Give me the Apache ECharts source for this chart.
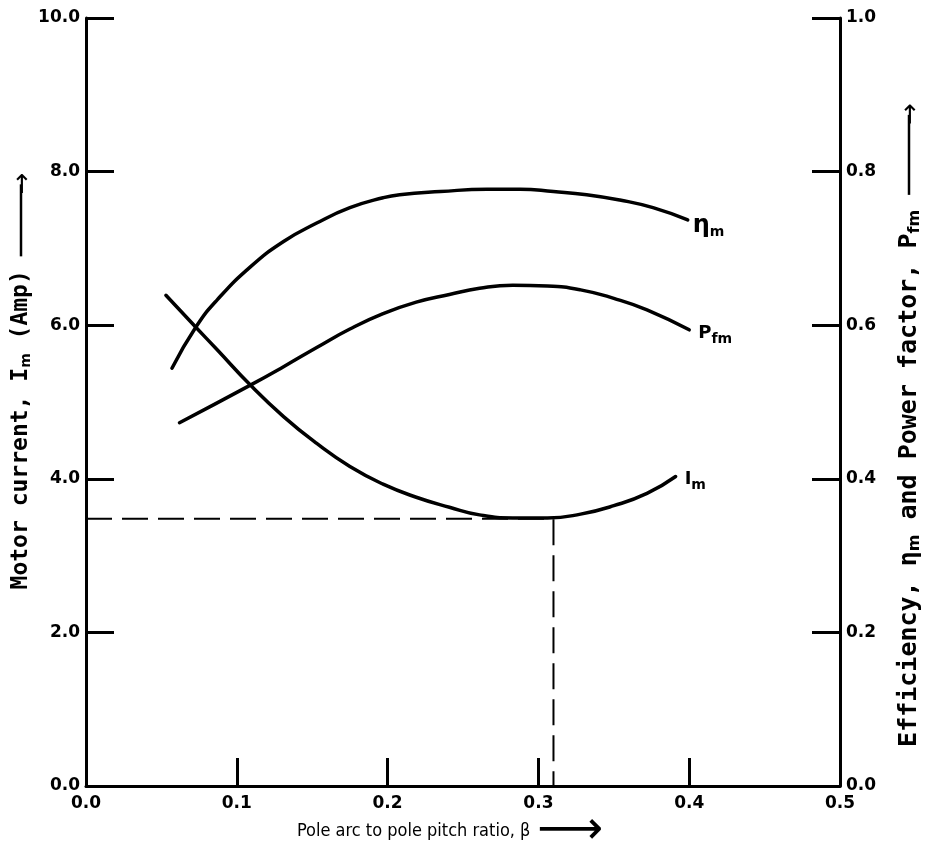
<!DOCTYPE html>
<html>
<head>
<meta charset="utf-8">
<script src="https://cdn.jsdelivr.net/npm/echarts@6/dist/echarts.min.js"></script>
<style>
html,body{margin:0;padding:0;background:#fff;}
#chart{width:933px;height:853px;}
</style>
</head>
<body>
<div id="chart"></div>
<script>
// Efficiency curve (right axis)
const etaBeta = [0.057, 0.073, 0.087, 0.109, 0.131, 0.153, 0.175, 0.197, 0.208, 0.235, 0.266, 0.288, 0.310, 0.332, 0.354, 0.376, 0.399];
const etaVals = [0.544, 0.598, 0.633, 0.676, 0.709, 0.733, 0.753, 0.766, 0.770, 0.774, 0.777, 0.777, 0.774, 0.770, 0.763, 0.753, 0.737];
// Power factor curve (right axis)
const pfBeta = [0.062, 0.109, 0.131, 0.153, 0.175, 0.197, 0.219, 0.241, 0.261, 0.283, 0.306, 0.328, 0.350, 0.372, 0.400];
const pfVals = [0.473, 0.522, 0.546, 0.571, 0.595, 0.615, 0.630, 0.640, 0.648, 0.652, 0.651, 0.646, 0.635, 0.620, 0.594];
// Motor current curve (left axis)
const imBeta = [0.053, 0.073, 0.087, 0.109, 0.131, 0.153, 0.175, 0.197, 0.219, 0.241, 0.261, 0.283, 0.306, 0.328, 0.350, 0.372, 0.391];
const imVals = [6.39, 5.97, 5.68, 5.22, 4.81, 4.46, 4.16, 3.93, 3.76, 3.63, 3.53, 3.49, 3.49, 3.54, 3.65, 3.81, 4.03];
// Optimum point (dashed guide)
const optBeta = 0.31;
const optCurrent = 3.48;

const FONT = "'DejaVu Sans', sans-serif";
const MONO = "'DejaVu Sans Mono', monospace";
const NARROW = "'Liberation Sans Narrow', 'DejaVu Sans Condensed', sans-serif";

function pairs(xs, ys){ return xs.map((x,i)=>[x, ys[i]]); }

function nameRich(size, shaft){
  return {
    t: {fontFamily: MONO, fontWeight: 'bold', fontSize: size, color: '#000'},
    s: {fontFamily: FONT, fontWeight: 'bold', fontSize: Math.round(size*0.62), color: '#000', padding: [Math.round(size*0.45),0,0,0]},
    bar: {width: shaft, height: 2.5, backgroundColor: '#000', fontSize: 2, lineHeight: 2.5},
    hd: {fontFamily: FONT, fontSize: 26, color: '#000', padding: [4,0,0,-10]}
  };
}

const lblRich = {
  big: {fontFamily: FONT, fontWeight: 'bold', fontSize: 24, color: '#000'},
  P: {fontFamily: FONT, fontWeight: 'bold', fontSize: 18, color: '#000'},
  I: {fontFamily: FONT, fontWeight: 'bold', fontSize: 18, color: '#000'},
  s: {fontFamily: FONT, fontWeight: 'bold', fontSize: 14, color: '#000', padding: [12,0,0,0]}
};

const axisCommon = {
  nameMoveOverlap: false,
  axisLine: {show: true, lineStyle: {color: '#000', width: 3}},
  axisTick: {show: true, inside: true, length: 28, lineStyle: {color: '#000', width: 3}},
  splitLine: {show: false},
  axisLabel: {color: '#000', fontFamily: FONT, fontWeight: 'bold', fontSize: 17, formatter: v => v.toFixed(1)}
};

const chart = echarts.init(document.getElementById('chart'), null, {renderer: 'canvas'});
chart.setOption({
  backgroundColor: '#fff',
  animation: false,
  grid: {left: 86, right: 93, top: 18, bottom: 67, containLabel: false, outerBoundsMode: 'none'},
  xAxis: Object.assign({}, axisCommon, {
    type: 'value', min: 0, max: 0.5, interval: 0.1,
    axisLabel: Object.assign({}, axisCommon.axisLabel, {margin: 9}),
    name: '{n|Pole arc to pole pitch ratio, β}  {ar|⟶}',
    nameLocation: 'middle', nameGap: 22,
    nameTextStyle: {padding: [0, 26, 0, 0], rich: {
      n: {fontFamily: NARROW, fontSize: 18, color: '#000'},
      ar: {fontFamily: FONT, fontSize: 46, color: '#000'}
    }}
  }),
  yAxis: [
    Object.assign({}, axisCommon, {
      type: 'value', min: 0, max: 10, interval: 2, position: 'left',
      axisLabel: Object.assign({}, axisCommon.axisLabel, {margin: 6}),
      name: '{t|Motor current, I}{s|m}{t| (Amp) }{bar| }{hd|→}',
      nameLocation: 'middle', nameGap: 50,
      nameTextStyle: {rich: nameRich(23, 72), padding: [0, 0, 0, 42]}
    }),
    Object.assign({}, axisCommon, {
      type: 'value', min: 0, max: 1, interval: 0.2, position: 'right',
      axisLabel: Object.assign({}, axisCommon.axisLabel, {margin: 6}),
      name: '{t|Efficiency, η}{s|m}{t| and Power factor, P}{s|fm}{t| }{bar| }{hd|→}',
      nameLocation: 'middle', nameGap: 54,
      nameTextStyle: {rich: nameRich(25, 80), padding: [0, 46, 0, 0]}
    })
  ],
  series: [
    {
      type: 'line', yAxisIndex: 0, silent: true, showSymbol: false,
      data: [[0, optCurrent], [optBeta, optCurrent], [optBeta, 0]],
      lineStyle: {color: '#000', width: 2, type: [26, 10]}, z: 1
    },
    {
      name: 'eta', type: 'line', yAxisIndex: 1, smooth: true, showSymbol: false,
      data: pairs(etaBeta, etaVals),
      lineStyle: {color: '#000', width: 3.5, cap: 'round'},
      endLabel: {show: true, distance: 5, formatter: '{big|η}{s|m}', rich: lblRich, offset: [0, 6]}
    },
    {
      name: 'pf', type: 'line', yAxisIndex: 1, smooth: true, showSymbol: false,
      data: pairs(pfBeta, pfVals),
      lineStyle: {color: '#000', width: 3.5, cap: 'round'},
      endLabel: {show: true, distance: 9, formatter: '{P|P}{s|fm}', rich: lblRich, offset: [0, 4]}
    },
    {
      name: 'im', type: 'line', yAxisIndex: 0, smooth: true, showSymbol: false,
      data: pairs(imBeta, imVals),
      lineStyle: {color: '#000', width: 3.5, cap: 'round'},
      endLabel: {show: true, distance: 9, formatter: '{I|I}{s|m}', rich: lblRich, offset: [0, 3]}
    }
  ]
});
</script>
</body>
</html>
